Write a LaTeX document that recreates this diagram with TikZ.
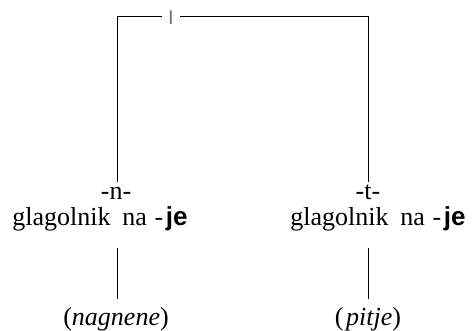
\documentclass[tikz,border=0pt]{standalone}
\usepackage{fontspec}
\setmainfont{Liberation Serif}
\newfontfamily\serifA{Liberation Serif}
\newfontfamily\boldsans{Liberation Sans}
\begin{document}
\begin{tikzpicture}[x=1pt,y=-1pt,
  lbl/.style={font=\serifA\fontsize{26}{30}\selectfont, inner sep=0pt, anchor=base},
  top/.style={lbl, text height=18pt},
  mid/.style={lbl, text depth=22pt},
  leaf/.style={lbl, text height=26pt},
  edge/.style={draw, line width=0.8pt}]
\useasboundingbox (0,0) rectangle (474,331);
\node[font=\fontsize{20}{22}\selectfont\boldsans, inner sep=0pt, minimum width=18pt, text=black!55] (root) at (171,17.5) {I};
\coordinate (cl) at (117,16);
\coordinate (cr) at (368,16);
% left branch
\node[top] (nA) at (116,200) {-n-};
\node[mid] (gA) at (100,226) {glagolnik\hspace{0.45em}na\hspace{0.3em}-\hspace{0.1em}{\boldsans\bfseries je}};
\node[leaf] (lA) at (116,325) {(\textit{nagnene})};
% right branch
\node[top] (nB) at (368,200) {-t-};
\node[mid] (gB) at (378,226) {glagolnik\hspace{0.45em}na\hspace{0.3em}-\hspace{0.1em}{\boldsans\bfseries je}};
\node[leaf] (lB) at (368,325) {(\hspace{0.1em}\textit{pitje})};
% connectors
\draw[edge] (root.west |- cl) -- (cl) -- (cl |- nA.north);
\draw[edge] (root.east |- cr) -- (cr) -- (cr |- nB.north);
\draw[edge] (cl |- gA.south) -- (cl |- lA.north);
\draw[edge] (cr |- gB.south) -- (cr |- lB.north);
\end{tikzpicture}
\end{document}
